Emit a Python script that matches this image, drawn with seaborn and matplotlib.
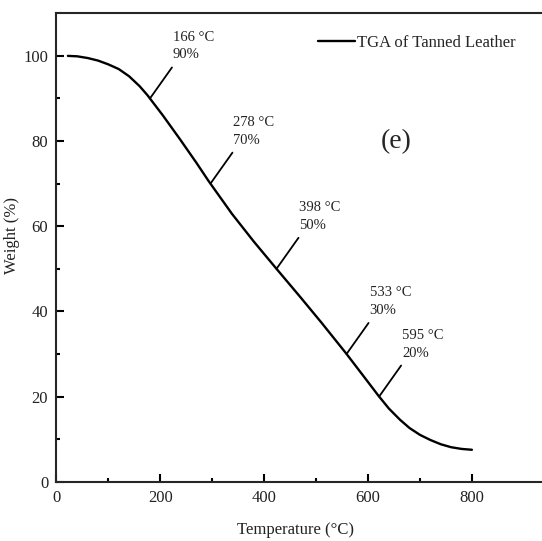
import numpy as np
import matplotlib
matplotlib.use("Agg")
import matplotlib.pyplot as plt
import seaborn as sns

# TGA curve
temperature = [22, 40, 60, 80, 100, 120, 140, 160, 175, 205, 238, 270, 293, 338, 380, 423,
               470, 510, 558, 590, 620, 640, 662, 680, 700, 720, 740, 760, 780, 800]
weight = [100, 99.9, 99.5, 98.9, 98.0, 96.9, 95.2, 92.9, 90.8, 86.0, 80.4, 74.8, 70.6, 62.9,
          56.4, 50.1, 43.3, 37.4, 30.1, 25.0, 20.2, 17.2, 14.5, 12.6, 11.0, 9.8, 8.8, 8.1,
          7.7, 7.5]

# annotated points
label_temp = [166, 278, 398, 533, 595]
label_weight = [90, 70, 50, 30, 20]

sns.set_style("ticks")
plt.rcParams["font.family"] = ["Liberation Serif", "DejaVu Serif"]
plt.rcParams["axes.linewidth"] = 1.5

fig = plt.figure(figsize=(5.42, 5.41), dpi=100)
ax = fig.add_axes([0.1042, 0.1096, 0.8958, 0.8658])

sns.lineplot(x=temperature, y=weight, color="black", linewidth=1.7,
             label="TGA of Tanned Leather", ax=ax)

# leader lines start where the curve reaches the labelled weight
anchor_x = np.interp(label_weight, weight[::-1], temperature[::-1])
for t, w, x0 in zip(label_temp, label_weight, anchor_x):
    ax.annotate("", xy=(x0, w), xytext=(22, 31), textcoords="offset pixels",
                arrowprops=dict(arrowstyle="-", lw=1.3, color="black",
                                shrinkA=0, shrinkB=0))
    ax.annotate(f"{t} °C\n{w}%", xy=(x0, w), xytext=(23, 37),
                textcoords="offset pixels", ha="left", va="bottom",
                fontsize=10.5, linespacing=1.45, color="#222222")

ax.text(0.699, 0.727, "(e)", transform=ax.transAxes, ha="center", va="center",
        fontsize=20)

ax.set_xlim(0, 935)
ax.set_ylim(0, 110)
ax.set_xticks(np.arange(0, 801, 200))
ax.set_xticks(np.arange(100, 800, 200), minor=True)
ax.set_yticks(np.arange(0, 101, 20))
ax.set_yticks(np.arange(10, 110, 20), minor=True)
ax.tick_params(which="both", direction="in", width=1.5, labelsize=12, pad=6,
               colors="black", labelcolor="#222222")
ax.tick_params(which="major", length=6)
ax.tick_params(which="minor", length=3)
ax.spines["right"].set_visible(False)

ax.set_xlabel("Temperature (°C)", fontsize=12, color="#222222")
ax.set_ylabel("Weight (%)", fontsize=12, color="#222222")
ax.xaxis.set_label_coords(0.492, -0.085)
ax.yaxis.set_label_coords(-0.075, 0.525)

ax.legend(loc="center left", bbox_to_anchor=(0.539, 0.9366), frameon=False,
          borderpad=0, borderaxespad=0, handlelength=2.2, handletextpad=0.15,
          fontsize=12)

fig.savefig("out.png", dpi=100)
